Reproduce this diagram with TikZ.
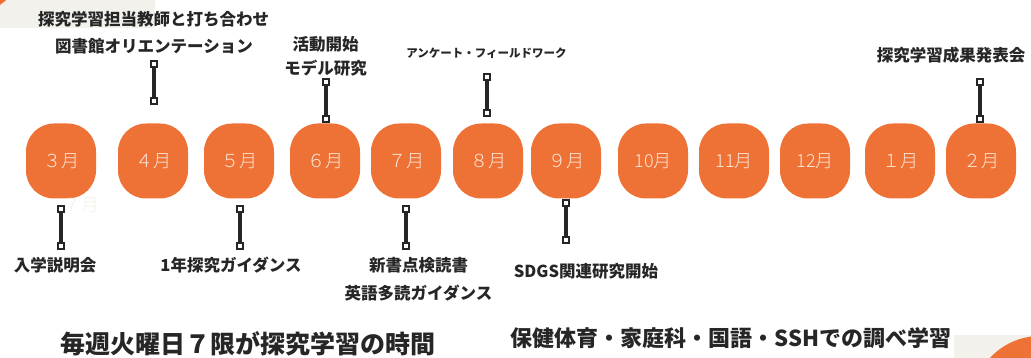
\documentclass[tikz,border=0pt]{standalone}
\usepackage{fontspec}
\newfontfamily\jpfont{Noto Sans CJK JP}
\IfFontExistsTF{Noto Sans CJK JP Light}
  {\newfontfamily\jplight{Noto Sans CJK JP Light}}{\newfontfamily\jplight{Noto Sans CJK JP}}
\IfFontExistsTF{Noto Sans CJK JP Black}
  {\newfontfamily\jpheavy{Noto Sans CJK JP Black}}{\newfontfamily\jpheavy{Noto Sans CJK JP Bold}}
\definecolor{boxorange}{HTML}{EE7236}
\definecolor{ink}{HTML}{262626}
\definecolor{paper}{HTML}{F2F1EB}
\definecolor{boxtext}{HTML}{FCE9DC}
\definecolor{ghost}{HTML}{F4F0E4}
\tikzset{
  month/.style={fill=boxorange,rounded corners=28pt,minimum width=70pt,minimum height=75pt,
    text=boxtext,font=\jplight\fontsize{18}{20}\selectfont,inner sep=0},
  tag/.style={draw=ink,fill=white,line width=1.8pt,minimum size=5.5pt,inner sep=0},
  stem/.style={draw=ink,line width=3.2pt},
  lbl/.style={text=ink,font=\jpfont\bfseries\fontsize{16.5}{24}\selectfont,align=center,inner sep=0},
}
\begin{document}
\begin{tikzpicture}[x=1pt,y=-1pt]
\useasboundingbox(0,0)rectangle(1031,358);
%corners
\begin{scope}
\clip(0,0)rectangle(1031,358);
\fill[paper](0,0)rectangle(155,28);
\fill[boxorange](-30,-40)circle(54pt);
\fill[paper](954,335)rectangle(1031,358);
\fill[boxorange](1040,404)circle(68pt);
\end{scope}
%months
\foreach \i/\x/\t in {3/61/３月,4/153/４月,5/239/５月,6/325/６月,7/406/７月,8/488/８月,
  9/566/９月,10/653/10月,11/734/11月,12/815/12月,1/900/１月,2/981/２月}{
\node[month](m\i)at(\x,161){\t};
}
\node[text=ghost,font=\jplight\fontsize{18}{20}\selectfont,inner sep=0](ghost)at(81,205){７月};
%connectors
\foreach \n/\x/\ya/\yb in {apr/154/64/101,jun/326/82/119,aug/487/77/113,feb/980/82/119,
  mar/61/209/246,may/240/209/246,jul/406/209/246,sep/566/203/240}{
\node[tag](\n1)at(\x,\ya){};
\node[tag](\n2)at(\x,\yb){};
\draw[stem](\n1)--(\n2);
}
%labels above
\node[lbl](meet)at(153.5,19.5){探究学習担当教師と打ち合わせ};
\node[lbl](orient)at(154,46){図書館オリエンテーション};
\node[lbl](start)at(325.5,56){活動開始\\モデル研究};
\node[lbl,font=\jpfont\bfseries\fontsize{11.5}{14}\selectfont](survey)at(486.5,53.5){アンケート・フィールドワーク};
\node[lbl](present)at(951,55){探究学習成果発表会};
%labels below
\node[lbl](entry)at(55,265.5){入学説明会};
\node[lbl](guide)at(231,265.5){1年探究ガイダンス};
\node[lbl](books)at(418.5,279){新書点検読書\\[4pt]英語多読ガイダンス};
\node[lbl](sdgs)at(586,271){SDGS関連研究開始};
%footer
\node[lbl,font=\jpheavy\fontsize{25}{28}\selectfont](weekly)at(248,344){毎週火曜日７限が探究学習の時間};
\node[lbl,font=\jpheavy\fontsize{22}{26}\selectfont](subjects)at(731,338){保健体育・家庭科・国語・SSHでの調べ学習};
\end{tikzpicture}
\end{document}
